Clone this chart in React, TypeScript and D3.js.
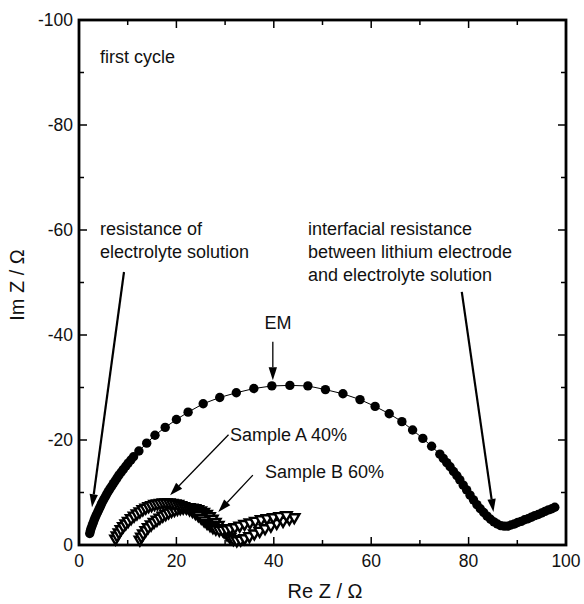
import React from "react";
import * as d3 from "d3";

const emX = [2.2,2.35,2.5,2.7,2.9,3.1,3.3,3.55,3.8,4.05,4.3,4.55,4.8,5.1,5.4,5.7,6.0,6.35,6.7,7.05,7.4,7.8,8.2,8.65,9.1,9.6,10.1,10.65,11.2,12.3,13.9,15.6,17.7,20.0,22.4,25.5,28.9,32.3,35.9,39.6,43.3,47.0,50.6,54.2,57.7,60.8,63.7,66.3,68.5,70.6,72.4,74.1,74.8,75.5,76.2,76.9,77.6,78.2,78.9,79.6,80.3,81.0,81.7,82.4,83.1,83.8,84.5,85.2,85.9,86.6,87.3,88.0,88.7,89.4,90.1,90.8,91.5,92.2,92.9,93.6,94.3,95.0,95.7,96.4,97.1,97.7];
const emY = [-2.2,-2.7,-3.2,-3.7,-4.2,-4.7,-5.2,-5.7,-6.2,-6.7,-7.2,-7.7,-8.2,-8.7,-9.2,-9.7,-10.2,-10.7,-11.2,-11.7,-12.2,-12.75,-13.3,-13.85,-14.4,-15.0,-15.6,-16.2,-16.8,-17.9,-19.4,-20.9,-22.4,-23.9,-25.3,-26.9,-28.1,-29.0,-29.8,-30.3,-30.4,-30.3,-29.6,-28.8,-27.7,-26.4,-25.0,-23.5,-21.9,-20.3,-18.8,-17.3,-16.5,-15.7,-14.9,-14.0,-13.2,-12.4,-11.4,-10.5,-9.5,-8.6,-7.7,-6.9,-6.2,-5.5,-4.9,-4.4,-4.0,-3.7,-3.6,-3.6,-3.8,-4.0,-4.3,-4.5,-4.8,-5.0,-5.3,-5.6,-5.8,-6.1,-6.4,-6.7,-6.9,-7.2];

const aX = [7.5,7.8,8.2,8.6,9.1,9.6,10.1,10.7,11.3,11.9,12.5,13.1,13.7,14.3,14.9,15.5,16.1,16.7,17.3,17.9,18.5,19.1,19.7,20.3,20.9,21.5,22.1,22.7,23.3,23.9,24.5,25.1,25.7,26.3,26.9,27.5,28.1,28.8,29.5,30.3,31.1,32.0,33.0,34.0,35.1,36.2,37.4,38.6,39.9,41.2,42.6];
const aY = [-1.2,-1.8,-2.4,-3.0,-3.6,-4.1,-4.6,-5.1,-5.6,-6.0,-6.4,-6.8,-7.1,-7.4,-7.6,-7.8,-7.9,-8.0,-8.1,-8.1,-8.1,-8.0,-7.9,-7.8,-7.6,-7.4,-7.1,-6.8,-6.5,-6.1,-5.7,-5.2,-4.7,-4.2,-3.8,-3.4,-3.1,-2.9,-2.9,-3.0,-3.2,-3.4,-3.7,-4.0,-4.3,-4.6,-4.9,-5.1,-5.3,-5.5,-5.7];

const bX = [12.5,12.8,13.2,13.7,14.2,14.8,15.4,16.0,16.6,17.2,17.8,18.4,19.0,19.6,20.2,20.8,21.4,22.0,22.6,23.2,23.8,24.4,25.0,25.6,26.2,26.8,27.4,28.0,28.6,29.2,29.8,30.4,31.0,31.7,32.4,33.2,34.0,35.0,36.0,37.1,38.2,39.4,40.6,41.9,43.2,44.2];
const bY = [-1.0,-1.6,-2.2,-2.8,-3.4,-3.9,-4.4,-4.8,-5.2,-5.6,-5.9,-6.2,-6.5,-6.7,-6.9,-7.0,-7.1,-7.2,-7.2,-7.1,-7.0,-6.8,-6.6,-6.3,-5.9,-5.5,-5.0,-4.4,-3.8,-3.2,-2.6,-2.0,-1.5,-1.1,-0.9,-1.0,-1.3,-1.7,-2.2,-2.7,-3.2,-3.7,-4.2,-4.6,-5.0,-5.3];

const xTicks = [0, 20, 40, 60, 80, 100];
const yTicks = [0, -20, -40, -60, -80, -100];
const xMinor = [10, 30, 50, 70, 90];
const yMinor = [-10, -30, -50, -70, -90];

const W = 584, H = 604;
const L = 79, R = 566, T = 20, B = 545;
const FONT = "Liberation Sans, Arial, Helvetica, sans-serif";

export default function App() {
  const x = d3.scaleLinear().domain([0, 100]).range([L, R]);
  const y = d3.scaleLinear().domain([0, -100]).range([B, T]);
  const em = emX.map((v, i) => [v, emY[i]] as [number, number]);
  const a = aX.map((v, i) => [v, aY[i]] as [number, number]);
  const b = bX.map((v, i) => [v, bY[i]] as [number, number]);
  const line = d3.line<[number, number]>().x(d => x(d[0])).y(d => y(d[1]));
  const tri = d3.symbol().type(d3.symbolTriangle).size(46)();

  const arrows = [
    { x1: 9.24, y1: -52, x2: 2.67, y2: -7.2, w: 2.2 },
    { x1: 78.6, y1: -48.2, x2: 85.1, y2: -6.3, w: 2.2 },
    { x1: 39.8, y1: -38.7, x2: 39.8, y2: -31.4, w: 1.3 },
    { x1: 30.7, y1: -21, x2: 18.7, y2: -9.5, w: 1.3 },
    { x1: 35.7, y1: -13.3, x2: 28.6, y2: -6.3, w: 1.3 },
  ];

  const arrowEl = (ar: any, i: number) => {
    const X1 = x(ar.x1), Y1 = y(ar.y1), X2 = x(ar.x2), Y2 = y(ar.y2);
    const ang = Math.atan2(Y2 - Y1, X2 - X1);
    const hl = 13, hw = 4.2;
    const bx = X2 - hl * Math.cos(ang), by = Y2 - hl * Math.sin(ang);
    const px = -Math.sin(ang) * hw, py = Math.cos(ang) * hw;
    return (
      <g key={"ar" + i}>
        <line x1={X1} y1={Y1} x2={bx} y2={by} stroke="#000" strokeWidth={ar.w} />
        <path d={`M${X2},${Y2}L${bx + px},${by + py}L${bx - px},${by - py}Z`} fill="#000" />
      </g>
    );
  };

  const tfs = 17.5;
  return (
    <svg width={W} height={H} style={{ position: "absolute", left: 0, top: 0, background: "#fff" }} fontFamily={FONT}>
      <rect width={W} height={H} fill="#fff" />
      <path d={line(em) || ""} fill="none" stroke="#000" strokeWidth={1} />
      {em.map((d, i) => (
        <circle key={"em" + i} cx={x(d[0])} cy={y(d[1])} r={4.7} fill="#000" />
      ))}
      {b.map((d, i) => (
        <path key={"b" + i} d={tri} transform={`translate(${x(d[0])},${y(d[1])}) rotate(180)`} fill="#fff" stroke="#000" strokeWidth={2.4} />
      ))}
      {a.map((d, i) => (
        <path key={"a" + i} d={tri} transform={`translate(${x(d[0])},${y(d[1])}) rotate(180)`} fill="#fff" stroke="#000" strokeWidth={2.4} />
      ))}
      <rect x={L} y={T} width={R - L} height={B - T} fill="none" stroke="#000" strokeWidth={2.8} />
      {xTicks.map(t => (
        <g key={"xt" + t}>
          <line x1={x(t)} x2={x(t)} y1={B} y2={B - 8} stroke="#000" strokeWidth={1.5} />
          <line x1={x(t)} x2={x(t)} y1={T} y2={T + 8} stroke="#000" strokeWidth={1.5} />
          <text x={x(t)} y={B + 22} textAnchor="middle" fontSize={tfs} fill="#111">{t}</text>
        </g>
      ))}
      {xMinor.map(t => (
        <g key={"xm" + t}>
          <line x1={x(t)} x2={x(t)} y1={B} y2={B - 5} stroke="#000" strokeWidth={1.5} />
          <line x1={x(t)} x2={x(t)} y1={T} y2={T + 5} stroke="#000" strokeWidth={1.5} />
        </g>
      ))}
      {yTicks.map(t => (
        <g key={"yt" + t}>
          <line x1={L} x2={L + 8} y1={y(t)} y2={y(t)} stroke="#000" strokeWidth={1.5} />
          <line x1={R} x2={R - 8} y1={y(t)} y2={y(t)} stroke="#000" strokeWidth={1.5} />
          <text x={L - 6} y={y(t) + 6} textAnchor="end" fontSize={tfs} fill="#111">{t}</text>
        </g>
      ))}
      {yMinor.map(t => (
        <g key={"ym" + t}>
          <line x1={L} x2={L + 5} y1={y(t)} y2={y(t)} stroke="#000" strokeWidth={1.5} />
          <line x1={R} x2={R - 5} y1={y(t)} y2={y(t)} stroke="#000" strokeWidth={1.5} />
        </g>
      ))}
      <text x={325} y={598} textAnchor="middle" fontSize={20} fill="#111">Re Z / Ω</text>
      <text transform={`translate(24,285) rotate(-90)`} textAnchor="middle" fontSize={20} fill="#111">Im Z / Ω</text>
      <g fontSize={18} fill="#111">
        <text x={100} y={63}>first cycle</text>
        <text x={100} y={235}>resistance of</text>
        <text x={100} y={258}>electrolyte solution</text>
        <text x={308} y={235}>interfacial resistance</text>
        <text x={308} y={258}>between lithium electrode</text>
        <text x={308} y={281}>and electrolyte solution</text>
        <text x={278} y={329} textAnchor="middle">EM</text>
        <text x={230} y={441}>Sample A 40%</text>
        <text x={265} y={478}>Sample B 60%</text>
      </g>
      {arrows.map(arrowEl)}
    </svg>
  );
}
